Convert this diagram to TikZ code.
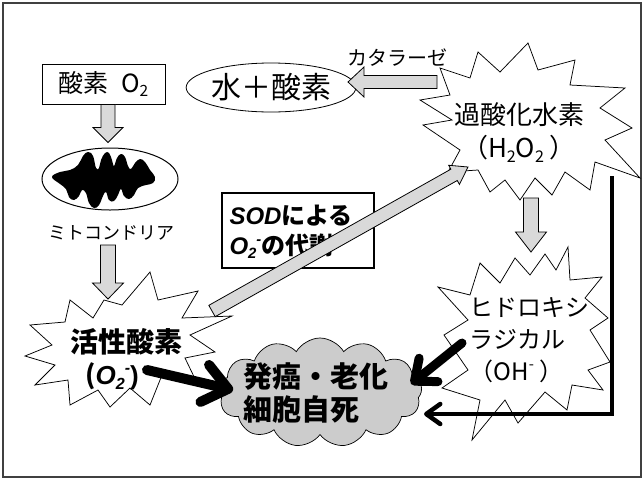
\documentclass[tikz,border=0pt]{standalone}
\usepackage{fontspec}
\usepackage{graphicx}
\setmainfont{Noto Sans CJK JP}
\newfontfamily\latb{Liberation Sans}
\usetikzlibrary{shapes.symbols,shapes.geometric,calc,arrows.meta}
\newcommand\fsz[1]{\fontsize{#1pt}{#1pt}\selectfont}
\newcommand\subs[1]{\raisebox{-0.35ex}{\scalebox{0.62}{#1}}}
\newcommand\supm{\raisebox{0.8ex}{\scalebox{0.62}{-}}}
\newcommand\blockarr[5]{%
  \coordinate (bah) at ($(#2)!#5!(#1)$);
  \draw[greyarrow] ($(#1)!#3!90:(#2)$) -- ($(bah)!#3!90:(#2)$) -- ($(bah)!#4!90:(#2)$) -- (#2)
    -- ($(bah)!#4!-90:(#2)$) -- ($(bah)!#3!-90:(#2)$) -- ($(#1)!#3!-90:(#2)$) -- cycle;}
\tikzset{
  greyarrow/.style={draw=black, line width=0.8pt, fill=gray!30, line join=miter},
  burstline/.style={draw=black, fill=white, line width=0.75pt, line join=miter},
  blk/.style={line width=#1, line cap=round},
  frame/.style={draw=black!75, line width=1.5pt},
}
\begin{document}
\begin{tikzpicture}[x=1pt,y=-1pt]
\useasboundingbox (0,0) rectangle (644,480);
\fill[white] (0,0) rectangle (644,480);
\draw[frame] (3,3) rectangle (641,477);

% starbursts (drawn directly)
\coordinate (act) at (128,340);
\draw[burstline] plot[sharp cycle] coordinates {
 (70,300) (93,318) (104,300) (122,305) (150,272) (158,300) (198,291) (182,318) (232,316) (190,335)
 (215,352) (185,358) (198,385) (162,375) (150,405) (130,388) (110,407) (98,390) (70,405) (68,380)
 (35,385) (55,365) (25,356) (52,345) (30,325) (65,322)};
\coordinate (h2o2) at (528,120);
\draw[burstline] plot[sharp cycle] coordinates {
 (528,43) (538,70) (575,60) (570,85) (625,88) (600,108) (632,128) (605,140) (640,178) (595,162)
 (590,190) (565,172) (552,195) (535,178) (520,200) (505,180) (490,192) (478,170) (448,172) (460,150)
 (423,125) (452,120) (420,100) (450,95) (440,68) (470,78) (478,52) (500,72)};
\coordinate (hyd) at (525,349);
\draw[burstline] plot[sharp cycle] coordinates {
 (480,263) (500,283) (515,258) (530,275) (545,254) (556,270) (568,247) (570,280) (602,277) (585,298)
 (608,318) (590,330) (610,362) (588,370) (603,390) (572,385) (567,410) (545,392) (518,423) (505,400)
 (472,440) (480,400) (442,388) (468,370) (444,335) (468,320) (438,287) (470,295)};
\node[cloud, draw=black, fill=gray!40, line width=0.7pt, cloud puffs=13, cloud puff arc=120,
      minimum width=204pt, minimum height=109pt, inner sep=0pt] (cl) at (320,392.5) {};

% boxes and ellipses
\node[draw=black, line width=0.8pt, minimum width=123pt, minimum height=40pt, inner sep=0pt,
      font=\fsz{25}] (o2) at (103.5,84) {酸素\hspace{0.5em}O\subs{2}};
\node[ellipse, draw=black, line width=0.8pt, minimum width=148pt, minimum height=49pt,
      inner sep=0pt, font=\fsz{30}] (wox) at (271,87.5) {水＋酸素};
\node[font=\fsz{20}] (cat) at (397,58) {カタラーゼ};
\node[ellipse, draw=black, line width=1pt, minimum width=136pt, minimum height=62pt] (mito) at (110,179) {};
\fill[black] plot[smooth cycle, tension=0.7] coordinates {
 (52,177) (60,172) (70,170) (78,165) (83,156) (88,152) (93,156) (96,168) (99,168) (101,160)
 (105,153) (109,153) (112,160) (114,166) (117,158) (121,154) (125,157) (128,166) (131,169) (135,163)
 (140,159) (145,162) (150,170) (155,177)
 (153,183) (146,185) (138,188) (134,195) (129,199) (124,196) (121,189) (118,195) (114,201) (109,200)
 (106,192) (103,196) (99,205) (94,208) (89,203) (86,193) (82,190) (79,196) (74,200) (69,197)
 (66,189) (60,184)};
\node[font=\fsz{18}] (mitol) at (111,233) {ミトコンドリア};
\node[draw=black, line width=1.4pt, minimum width=152pt, minimum height=75pt] (sod) at (298,230.5) {};

% texts
\node[font=\fsz{28}\bfseries] (actt) at (126,342) {活性酸素};
\node[font=\fsz{26}\bfseries] (actt2) at (112,376) {(\latb\itshape O\subs{2}\supm\upshape)};
\node[align=center, font=\fontsize{26pt}{33pt}\selectfont] (h2o2t) at (519,133)
  {過酸化水素\\（H\subs{2}O\subs{2}\ ）};
\node[align=left, anchor=west, font=\fontsize{24pt}{32pt}\selectfont] (hydt) at (466,340)
  {ヒドロキシ\\ラジカル\\（OH\supm\ ）};
\node[align=left, anchor=west, font=\fontsize{24pt}{30pt}\selectfont\bfseries] (sodt) at (226,232)
  {{\latb\itshape SOD}による\\{\latb\itshape O\subs{2}\supm}の代謝};
\node[align=left, anchor=west, font=\fontsize{29pt}{33pt}\selectfont\bfseries] (clt) at (240,393.5)
  {発癌・老化\\細胞自死};

% grey block arrows
\coordinate (a1s) at ($(o2.south)+(4.5,0)$);
\coordinate (a1e) at ($(mito.north)+(-2,-5)$);
\blockarr{a1s}{a1e}{7pt}{15pt}{15pt}
\coordinate (a2s) at (108,245);
\coordinate (a2e) at (108,299);
\blockarr{a2s}{a2e}{7.5pt}{15.5pt}{16pt}
\coordinate (a3s) at (212,311);
\coordinate (a3e) at (468,167);
\blockarr{a3s}{a3e}{6.5pt}{11pt}{16pt}
\coordinate (a4s) at (437,82);
\coordinate (a4e) at (348,82);
\blockarr{a4s}{a4e}{6.5pt}{15pt}{16pt}
\coordinate (a5s) at (531,198);
\coordinate (a5e) at (531,252);
\blockarr{a5s}{a5e}{7.5pt}{15.5pt}{20pt}

% black arrows
\coordinate (b1s) at (147,370);
\coordinate (b1e) at (233,390);
\draw[blk=10pt, -{Straight Barb[length=24pt,width=38pt,line cap=round,line join=round]}] (b1s) -- (b1e);
\coordinate (b2s) at (462,343);
\coordinate (b2e) at (411,384);
\draw[blk=9pt, -{Straight Barb[length=18pt,width=30pt,line cap=round,line join=round]}] (b2s) -- (b2e);
\coordinate (b3s) at (612,176);
\coordinate (b3e) at (424,414);
\draw[line width=4.5pt, line join=miter, -{Straight Barb[length=14pt,width=20pt,line cap=round,line join=round]}] (b3s) |- (b3e);
\end{tikzpicture}
\end{document}
